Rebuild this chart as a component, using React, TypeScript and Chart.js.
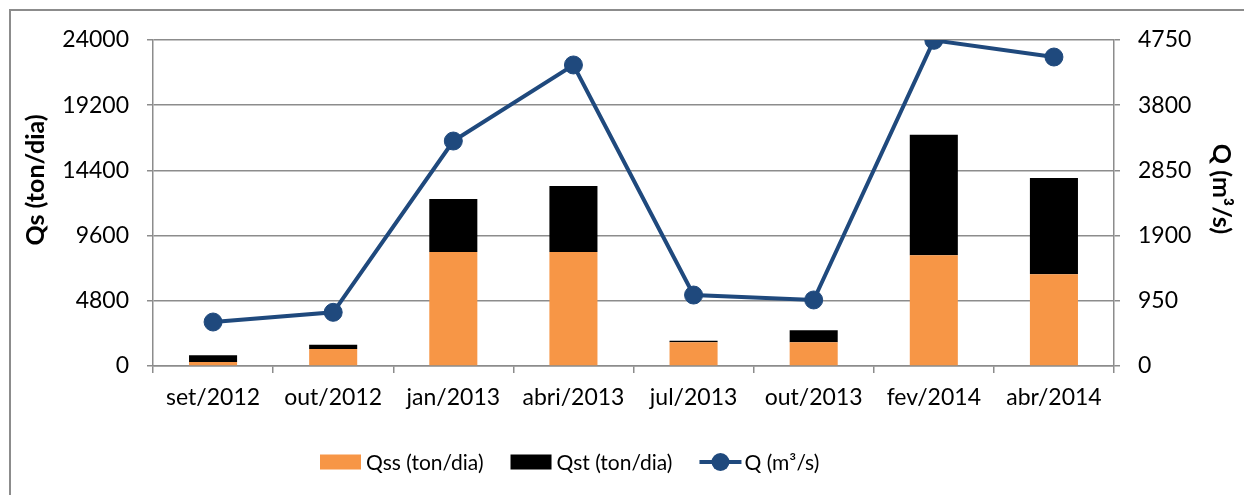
import React, { useEffect, useRef } from "react";
import { Chart, registerables } from "chart.js";

Chart.register(...registerables);

const categories = ["set/2012", "out/2012", "jan/2013", "abri/2013", "jul/2013", "out/2013", "fev/2014", "abr/2014"];
const qssValues = [300, 1250, 8390, 8390, 1740, 1740, 8150, 6750];
const qstValues = [490, 320, 3900, 4860, 120, 890, 8880, 7090];
const qValues = [641, 782, 3278, 4386, 1034, 962, 4745, 4502];
const leftTicks = [0, 4800, 9600, 14400, 19200, 24000];
const rightTicks = [0, 950, 1900, 2850, 3800, 4750];
const leftTitle = "Qs (ton/dia)";
const rightTitle = "Q (m³/s)";

const FONT = "Lato, 'Open Sans', sans-serif";
const GRID = "#8c8c8c";
const ORANGE = "#F79646";
const BLACK = "#000000";
const BLUE = "#1F497D";

const legendPlugin = {
  id: "customLegend",
  afterDraw(chart: any) {
    const ctx = chart.ctx;
    const ds = chart.data.datasets;
    const cy = 462;
    let x = 320;
    ctx.save();
    ctx.font = `21px ${FONT}`;
    ctx.textBaseline = "middle";
    ds.forEach((d: any) => {
      if (d.type === "line") {
        ctx.strokeStyle = d.borderColor;
        ctx.lineWidth = 4;
        ctx.beginPath();
        ctx.moveTo(x, cy);
        ctx.lineTo(x + 42, cy);
        ctx.stroke();
        ctx.fillStyle = d.borderColor;
        ctx.beginPath();
        ctx.arc(x + 21, cy, 9, 0, Math.PI * 2);
        ctx.fill();
        x += 45;
      } else {
        ctx.fillStyle = d.backgroundColor;
        ctx.fillRect(x, cy - 7.5, 41, 15);
        x += 46;
      }
      ctx.fillStyle = "#000";
      ctx.fillText(d.label, x, cy + 1);
      x += ctx.measureText(d.label).width + 27;
    });
    ctx.restore();
  },
};

const axisTitlePlugin = {
  id: "axisTitles",
  afterDraw(chart: any) {
    const ctx = chart.ctx;
    const area = chart.chartArea;
    ctx.save();
    ctx.font = `bold 25px ${FONT}`;
    ctx.fillStyle = "#000";
    ctx.textAlign = "center";
    ctx.textBaseline = "middle";
    ctx.translate(36, area.top + 140);
    ctx.rotate(-Math.PI / 2);
    ctx.fillText(leftTitle, 0, 0);
    ctx.restore();
    ctx.save();
    ctx.font = `bold 25px ${FONT}`;
    ctx.fillStyle = "#000";
    ctx.textAlign = "center";
    ctx.textBaseline = "middle";
    ctx.translate(1221, area.top + 149);
    ctx.rotate(Math.PI / 2);
    ctx.fillText(rightTitle, 0, 0);
    ctx.restore();
  },
};

export default function App() {
  const ref = useRef<HTMLCanvasElement>(null);
  useEffect(() => {
    document.body.style.margin = "0";
    const chart = new Chart(ref.current!, {
      type: "bar",
      data: {
        labels: categories,
        datasets: [
          {
            type: "bar",
            label: "Qss (ton/dia)",
            data: qssValues,
            backgroundColor: ORANGE,
            yAxisID: "y",
            stack: "s",
            order: 1,
            barPercentage: 0.4,
            categoryPercentage: 1,
          },
          {
            type: "bar",
            label: "Qst (ton/dia)",
            data: qstValues,
            backgroundColor: BLACK,
            yAxisID: "y",
            stack: "s",
            order: 1,
            barPercentage: 0.4,
            categoryPercentage: 1,
          },
          {
            type: "line",
            label: rightTitle,
            data: qValues,
            borderColor: BLUE,
            backgroundColor: BLUE,
            borderWidth: 4,
            pointRadius: 9,
            pointBackgroundColor: BLUE,
            pointBorderColor: BLUE,
            pointBorderWidth: 1,
            yAxisID: "y1",
            order: 0,
            tension: 0,
          },
        ] as any,
      },
      options: {
        animation: false,
        responsive: false,
        maintainAspectRatio: false,
        layout: { padding: { left: 10, top: 40, right: 0, bottom: 0 } },
        plugins: {
          legend: { display: false },
          tooltip: { enabled: false },
        },
        scales: {
          x: {
            stacked: true,
            grid: { display: true, drawOnChartArea: false, offset: true, color: GRID, lineWidth: 1.5, tickLength: 7 },
            border: { display: true, color: GRID, width: 1.5 },
            ticks: { color: "#000", font: { family: FONT, size: 23 }, padding: 11, maxRotation: 0, autoSkip: false },
            afterFit: (s: any) => { s.height = 129; },
          },
          y: {
            position: "left",
            stacked: true,
            min: 0,
            max: 24000,
            afterBuildTicks: (s: any) => { s.ticks = leftTicks.map((v) => ({ value: v })); },
            grid: { color: GRID, lineWidth: 1.5, tickLength: 6 },
            border: { display: true, color: GRID, width: 1.5 },
            ticks: { color: "#000", font: { family: FONT, size: 23 }, padding: 18, callback: (v: any) => String(v) },
            afterFit: (s: any) => { s.width = 143; },
          },
          y1: {
            position: "right",
            min: 0,
            max: 4750,
            afterBuildTicks: (s: any) => { s.ticks = rightTicks.map((v) => ({ value: v })); },
            grid: { drawOnChartArea: false, color: GRID, lineWidth: 1.5, tickLength: 6 },
            border: { display: true, color: GRID, width: 1.5 },
            ticks: { color: "#000", font: { family: FONT, size: 23 }, padding: 18, callback: (v: any) => String(v) },
            afterFit: (s: any) => { s.width = 130; },
          },
        },
      } as any,
      plugins: [legendPlugin, axisTitlePlugin],
    });
    return () => chart.destroy();
  }, []);
  return (
    <div style={{ position: "absolute", left: 0, top: 0, width: 1244, height: 495, overflow: "hidden", background: "#fff" }}>
      <div style={{ position: "absolute", left: 9, top: 9, width: 1400, height: 700, border: "2px solid #8c8c8c" }} />
      <canvas ref={ref} width={1244} height={495} style={{ position: "absolute", left: 0, top: 0 }} />
    </div>
  );
}
